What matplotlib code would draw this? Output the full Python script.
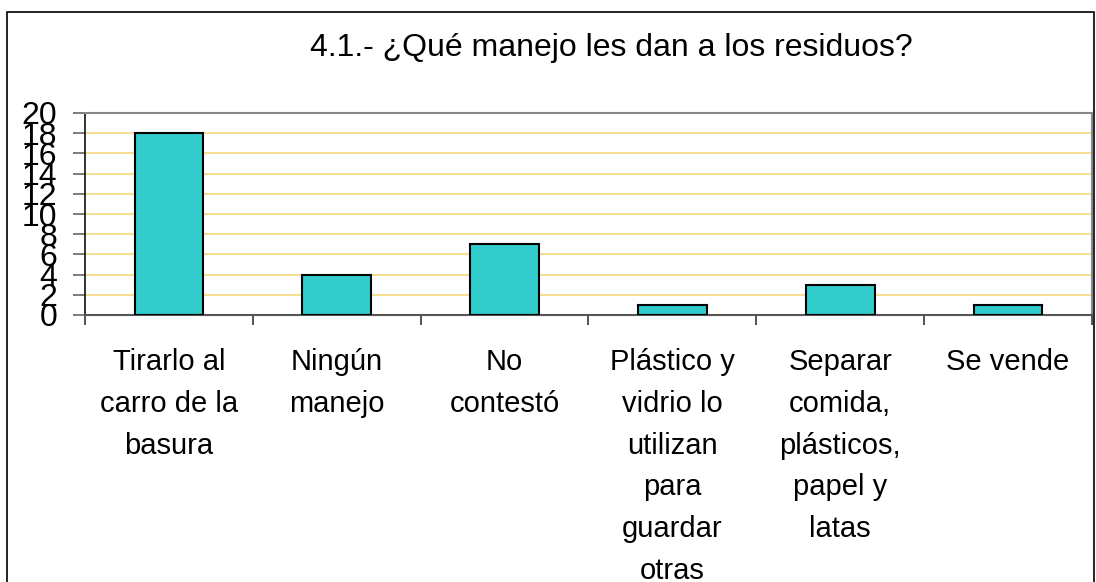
import matplotlib
matplotlib.use("Agg")
import matplotlib.pyplot as plt
from matplotlib.patches import Rectangle
import numpy as np

title = "4.1.- ¿Qué manejo les dan a los residuos?"
categories = [
    "Tirarlo al\ncarro de la\nbasura",
    "Ningún\nmanejo",
    "No\ncontestó",
    "Plástico y\nvidrio lo\nutilizan\npara\nguardar\notras\ncosas",
    "Separar\ncomida,\nplásticos,\npapel y\nlatas",
    "Se vende",
]
values = [18, 4, 7, 1, 3, 1]
yticks = list(range(0, 21, 2))

plt.rcParams['font.family'] = ['Liberation Sans', 'DejaVu Sans']

W, H = 1096, 582
fig = plt.figure(figsize=(W / 100, H / 100), dpi=100)
ax = fig.add_axes([85 / W, 1 - 315 / H, (1092 - 85) / W, (315 - 113) / H])

x = np.arange(len(values))
ax.bar(x, values, width=0.41, color='#33CCCC', edgecolor='black', linewidth=1.5, zorder=3)

ax.set_xlim(-0.5, len(values) - 0.5)
ax.set_ylim(0, 20)
ax.set_yticks(yticks)
ax.set_yticklabels([str(v) for v in yticks], fontsize=23)
ax.yaxis.grid(True, color='#F5D97A', linewidth=1.2, zorder=0)
ax.set_axisbelow(True)

ax.set_xticks(x)
ax.set_xticklabels(categories, fontsize=21, linespacing=1.62, va='top')
ax.tick_params(axis='x', which='major', length=0, pad=24)
ax.set_xticks(np.arange(-0.5, len(values) + 0.5, 1), minor=True)
ax.tick_params(axis='x', which='minor', length=7.5, width=1.2, color='#333333', direction='out')
ax.tick_params(axis='y', length=9, width=1.2, color='#666666', pad=11, direction='out')

for s in ['top', 'right']:
    ax.spines[s].set_color('#888888')
    ax.spines[s].set_linewidth(1.5)
ax.spines['left'].set_color('#111111')
ax.spines['left'].set_linewidth(1.2)
ax.spines['bottom'].set_color('#555555')
ax.spines['bottom'].set_linewidth(1.5)

fig.text(611 / W, 1 - 48 / H, title, fontsize=23, ha='center', va='center')

fig.patches.append(Rectangle((7 / W, -0.1), (1094 - 7) / W, 1 - 12 / H + 0.1,
                             transform=fig.transFigure, fill=False,
                             edgecolor='black', linewidth=1.2, zorder=0))

fig.savefig("out.png", dpi=100)
